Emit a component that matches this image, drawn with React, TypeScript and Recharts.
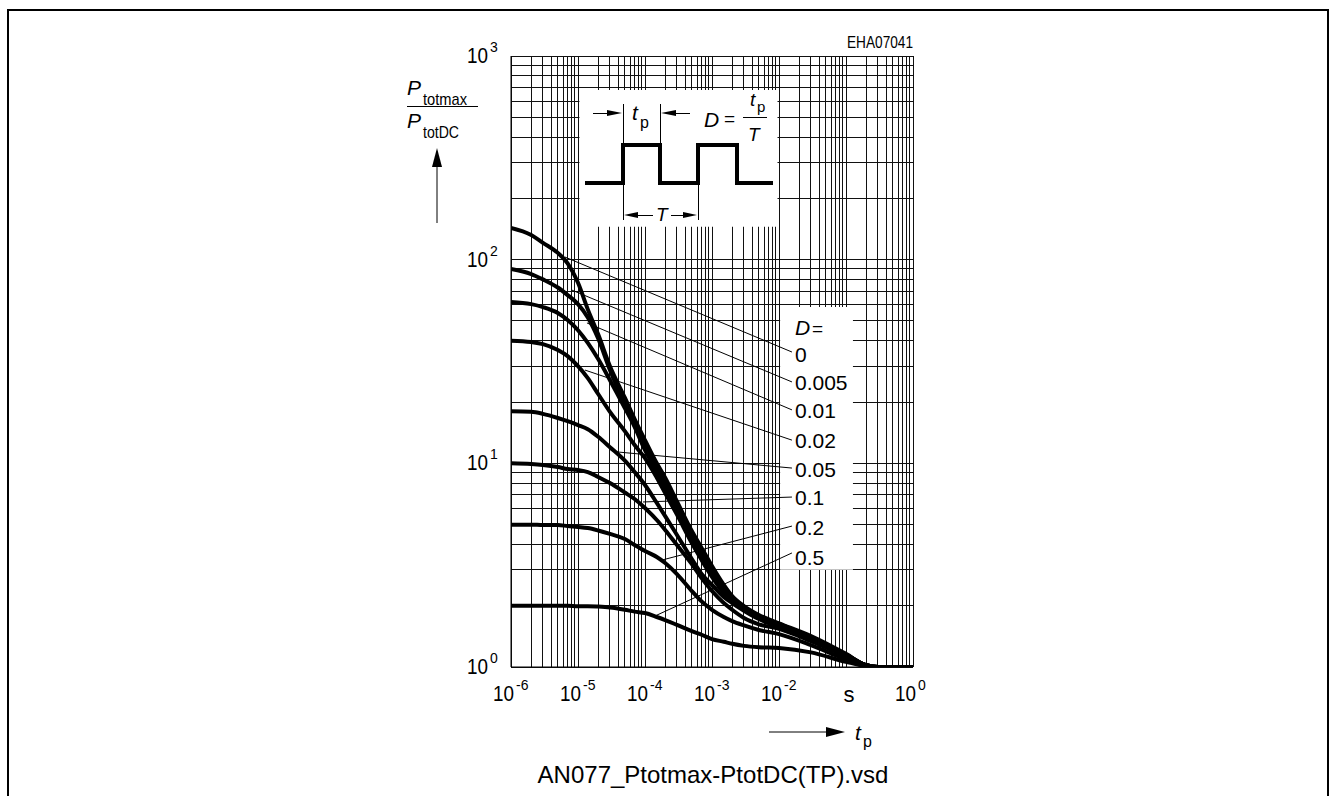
import React from "react";
import {
  CartesianGrid,
  Line,
  LineChart,
  ReferenceArea,
  ReferenceLine,
  XAxis,
  YAxis,
} from "recharts";

const FONT = "'Liberation Sans', Arial, Helvetica, sans-serif";

// pulse duration t_p [s] where the curves were read
const tp = [
  1e-6, 2e-6, 3e-6, 5e-6, 7e-6, 1e-5, 1.4e-5, 2e-5, 3e-5, 5e-5, 7e-5, 1e-4,
  1.5e-4, 2e-4, 3e-4, 5e-4, 7e-4, 1e-3, 1.5e-3, 2e-3, 3e-3, 5e-3, 1e-2, 3e-2,
  0.1, 0.2, 0.3, 1,
];

// Ptotmax / PtotDC for each duty cycle D
const d0 = [143, 132, 121, 108, 96, 77, 57, 43, 30, 21, 16.5, 13, 10, 8.5, 6.5, 4.65, 3.84, 3.13, 2.53, 2.23, 1.99, 1.8, 1.64, 1.42, 1.16, 1.02, 1, 1];
const d0005 = [90, 85, 80, 73, 67, 60.5, 52, 41, 28.7, 19.5, 15.4, 12.1, 9.5, 8, 6.2, 4.4, 3.6, 2.96, 2.44, 2.21, 1.97, 1.78, 1.63, 1.4, 1.15, 1.02, 1, 1];
const d001 = [62, 60.5, 58.5, 54.7, 50.5, 45, 39, 32.5, 25.6, 18.7, 15.1, 11.6, 9.1, 7.65, 5.9, 4.2, 3.47, 2.86, 2.39, 2.16, 1.95, 1.76, 1.61, 1.39, 1.15, 1.02, 1, 1];
const d002 = [40, 39.4, 38.5, 36, 33.6, 30, 26.2, 21.9, 17.9, 14.4, 12.3, 10.6, 8.5, 7.15, 5.6, 4.06, 3.35, 2.77, 2.31, 2.13, 1.92, 1.74, 1.59, 1.37, 1.15, 1.02, 1, 1];
const d005 = [18, 17.9, 17.5, 16.7, 16.1, 15.4, 14.7, 13.5, 12, 10.3, 9.06, 7.83, 6.39, 5.51, 4.45, 3.39, 2.86, 2.53, 2.21, 2.06, 1.89, 1.72, 1.57, 1.36, 1.13, 1.02, 1, 1];
const d01 = [10, 9.92, 9.81, 9.59, 9.38, 9.27, 9.06, 8.57, 8, 7.19, 6.68, 6.03, 5.27, 4.71, 3.97, 3.2, 2.73, 2.36, 2.06, 1.91, 1.74, 1.62, 1.54, 1.34, 1.13, 1.02, 1, 1];
const d02 = [5, 5, 4.98, 4.98, 4.92, 4.87, 4.81, 4.68, 4.5, 4.25, 3.97, 3.71, 3.47, 3.24, 2.86, 2.36, 2.1, 1.91, 1.76, 1.68, 1.6, 1.52, 1.45, 1.28, 1.09, 1.01, 1, 1];
const d05 = [2, 2, 2, 2, 2, 1.99, 1.99, 1.98, 1.96, 1.91, 1.87, 1.84, 1.76, 1.7, 1.61, 1.5, 1.44, 1.37, 1.33, 1.3, 1.27, 1.25, 1.24, 1.18, 1.06, 1.01, 1, 1];

const dutyLabels = ["0", "0.005", "0.01", "0.02", "0.05", "0.1", "0.2", "0.5"];
const dutySeries = [d0, d0005, d001, d002, d005, d01, d02, d05];

// thin leader lines from each curve to its label (t_p, value)
const leaderFrom = [
  [6.4e-6, 103], [8.1e-6, 70.9], [1.36e-5, 48.9], [1.27e-5, 28.7],
  [3.57e-5, 11.4], [9.33e-5, 6.46], [1.79e-4, 3.35], [1.41e-4, 1.78],
];
const leaderTo = [
  [0.0156, 35.2], [0.0156, 25.1], [0.0156, 18.3], [0.0156, 13.0],
  [0.0156, 9.48], [0.0156, 6.83], [0.0156, 4.92], [0.0156, 3.63],
];

// axis ticks
const xDecades = [1e-6, 1e-5, 1e-4, 1e-3, 1e-2, 1e-1, 1];
const xExponents = ["-6", "-5", "-4", "-3", "-2", "s", "0"];
const yDecades = [1, 10, 100, 1000];
const yExponents = ["0", "1", "2", "3"];
const minorSteps = [1, 2, 3, 4, 5, 6, 7, 8, 9];

const xTicks = xDecades.slice(0, -1).flatMap((d) => minorSteps.map((m) => m * d)).concat([1]);
const yTicks = yDecades.slice(0, -1).flatMap((d) => minorSteps.map((m) => m * d)).concat([1000]);

const data = tp.map((t, i) => {
  const row: any = { t };
  dutySeries.forEach((s, k) => {
    row["d" + k] = s[i];
  });
  return row;
});

const findDecade = (list: number[], v: number) =>
  list.findIndex((d) => Math.abs(d - v) / d < 1e-6);

const XTick = (props: any) => {
  const { x, y, payload } = props;
  const i = findDecade(xDecades, payload.value);
  if (i < 0) return <g />;
  const exp = xExponents[i];
  if (exp === "s") {
    return (
      <text x={x + 3} y={y + 35} textAnchor="middle" fontSize={22} fontFamily={FONT} fill="#000">
        s
      </text>
    );
  }
  return (
    <g fill="#000" fontFamily={FONT}>
      <text x={x + 3} y={y + 34} textAnchor="end" fontSize={22} textLength={21} lengthAdjust="spacingAndGlyphs">
        10
      </text>
      <text x={x + 5} y={y + 23} fontSize={14}>
        {exp}
      </text>
    </g>
  );
};

const YTick = (props: any) => {
  const { x, y, payload } = props;
  const i = findDecade(yDecades, payload.value);
  if (i < 0) return <g />;
  return (
    <g fill="#000" fontFamily={FONT}>
      <text x={x - 44} y={y + 7} fontSize={22} textLength={21} lengthAdjust="spacingAndGlyphs">
        10
      </text>
      <text x={x - 21} y={y - 4} fontSize={14}>
        {yExponents[i]}
      </text>
    </g>
  );
};

const labelBaselines = [362, 390, 418, 448, 477, 505, 535, 565];

const Annotations = () => (
  <svg
    width={1332}
    height={796}
    style={{ position: "absolute", left: 0, top: 0, pointerEvents: "none" }}
    fontFamily={FONT}
  >
    {/* y axis title */}
    <text x={407} y={95} fontSize={21} fontStyle="italic">P</text>
    <text x={423} y={105} fontSize={17} textLength={44} lengthAdjust="spacingAndGlyphs">totmax</text>
    <line x1={407} x2={478} y1={106.5} y2={106.5} stroke="#000" strokeWidth={1} />
    <text x={407} y={128} fontSize={21} fontStyle="italic">P</text>
    <text x={423} y={138} fontSize={17} textLength={36} lengthAdjust="spacingAndGlyphs">totDC</text>
    <line x1={437} x2={437} y1={223} y2={165} stroke="#000" strokeWidth={1} />
    <polygon points="437,148 432,167 442,167" fill="#000" />

    {/* x axis title */}
    <line x1={769} x2={828} y1={732} y2={732} stroke="#000" strokeWidth={1} />
    <polygon points="845,732 826,727 826,737" fill="#000" />
    <text x={855} y={740} fontSize={21} fontStyle="italic">t</text>
    <text x={863} y={747} fontSize={16}>p</text>

    <text x={913} y={48} fontSize={16} textAnchor="end" textLength={66} lengthAdjust="spacingAndGlyphs">
      EHA07041
    </text>

    {/* pulse inset */}
    <polyline
      points="585,183 623,183 623,145 660,145 660,183 698,183 698,145 737,145 737,183 773,183"
      fill="none"
      stroke="#000"
      strokeWidth={4}
    />
    <g stroke="#000" strokeWidth={1} shapeRendering="crispEdges">
      <line x1={623} x2={623} y1={104} y2={143} />
      <line x1={660.5} x2={660.5} y1={104} y2={143} />
      <line x1={623} x2={623} y1={185} y2={220} />
      <line x1={698} x2={698} y1={185} y2={220} />
      <line x1={593} x2={608} y1={113} y2={113} />
      <line x1={676} x2={690} y1={113} y2={113} />
      <line x1={636} x2={653} y1={215} y2={215} />
      <line x1={671} x2={685} y1={215} y2={215} />
      <line x1={743} x2={767} y1={117} y2={117} />
    </g>
    <g fill="#000">
      <polygon points="622,113 607,110 607,116" />
      <polygon points="661,113 676,110 676,116" />
      <polygon points="624,215 638,212 638,218" />
      <polygon points="697,215 683,212 683,218" />
    </g>
    <text x={632} y={120} fontSize={21} fontStyle="italic">t</text>
    <text x={640} y={128} fontSize={16}>p</text>
    <text x={656} y={221} fontSize={19} fontStyle="italic">T</text>
    <text x={704} y={127} fontSize={21} fontStyle="italic">D</text>
    <text x={724} y={125} fontSize={19}>=</text>
    <text x={750} y={106} fontSize={19} fontStyle="italic">t</text>
    <text x={757} y={112} fontSize={15}>p</text>
    <text x={748} y={141} fontSize={19} fontStyle="italic">T</text>

    {/* duty cycle labels */}
    <text x={795} y={335} fontSize={21} fontStyle="italic">D</text>
    <text x={812} y={335} fontSize={19}>=</text>
    {dutyLabels.map((l, i) => (
      <text key={l} x={795} y={labelBaselines[i]} fontSize={21}>
        {l}
      </text>
    ))}

    <text x={713} y={783} fontSize={24} textAnchor="middle">
      AN077_Ptotmax-PtotDC(TP).vsd
    </text>
  </svg>
);

export default function App() {
  return (
    <div
      style={{
        position: "fixed",
        left: 0,
        top: 0,
        width: 1332,
        height: 796,
        overflow: "hidden",
        background: "#fff",
      }}
    >
      <style>{".recharts-cartesian-grid line { shape-rendering: crispEdges; }"}</style>
      <div
        style={{
          position: "absolute",
          left: 7,
          top: 9,
          width: 1318,
          height: 820,
          borderTop: "2px solid #000",
          borderLeft: "2px solid #000",
          borderRight: "2px solid #000",
        }}
      />
      <div style={{ position: "absolute", left: 0, top: 0 }}>
        <LineChart
          width={1332}
          height={796}
          data={data}
          margin={{ top: 56, right: 419, left: 451, bottom: 89 }}
        >
          <CartesianGrid stroke="#111" strokeWidth={1} />
          <XAxis
            dataKey="t"
            type="number"
            scale="log"
            domain={[1e-6, 1]}
            allowDataOverflow
            ticks={xTicks}
            interval={0}
            tick={<XTick />}
            tickLine={false}
            tickSize={0}
            tickMargin={0}
            axisLine={{ stroke: "#000" }}
            height={40}
          />
          <YAxis
            type="number"
            scale="log"
            domain={[1, 1000]}
            allowDataOverflow
            ticks={yTicks}
            interval={0}
            tick={<YTick />}
            tickLine={false}
            tickSize={0}
            tickMargin={0}
            axisLine={{ stroke: "#000" }}
            width={60}
          />
          <ReferenceArea x1={1.05e-5} x2={0.0095} y1={145} y2={680} fill="#fff" fillOpacity={1} stroke="none" />
          <ReferenceArea x1={0.0104} x2={0.127} y1={3.0} y2={58.5} fill="#fff" fillOpacity={1} stroke="none" />
          {leaderFrom.map((p, i) => (
            <ReferenceLine
              key={"lead" + i}
              segment={[
                { x: p[0], y: p[1] },
                { x: leaderTo[i][0], y: leaderTo[i][1] },
              ]}
              stroke="#000"
              strokeWidth={1}
            />
          ))}
          {dutySeries.map((_, k) => (
            <Line
              key={k}
              dataKey={"d" + k}
              type="monotone"
              stroke="#000"
              strokeWidth={4}
              dot={false}
              activeDot={false}
              isAnimationActive={false}
            />
          ))}
        </LineChart>
      </div>
      <Annotations />
    </div>
  );
}
